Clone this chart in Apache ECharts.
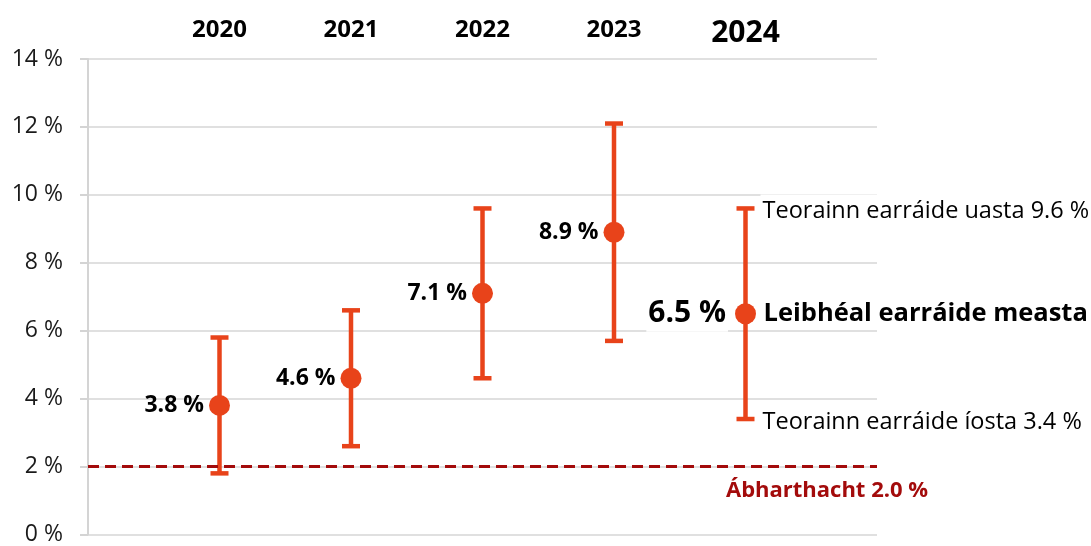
<!DOCTYPE html>
<html>
<head>
<meta charset="utf-8">
<script src="https://cdn.jsdelivr.net/npm/echarts@6/dist/echarts.min.js"></script>
<style>
  html, body { margin: 0; padding: 0; background: #ffffff; }
  #chart { width: 1091px; height: 546px; }
</style>
</head>
<body>
<div id="chart"></div>
<script>
// Estimated error level per year with its upper and lower error limits (%)
const years = ['2020', '2021', '2022', '2023', '2024'];
const estimate = [3.8, 4.6, 7.1, 8.9, 6.5];
const lowerLimit = [1.8, 2.6, 4.6, 5.7, 3.4];
const upperLimit = [5.8, 6.6, 9.6, 12.1, 9.6];
const materiality = 2.0;

// Text shown next to the latest year's marks
const estimateCaption = 'Leibhéal earráide measta';
const upperCaption = 'Teorainn earráide uasta';
const lowerCaption = 'Teorainn earráide íosta';
const materialityCaption = 'Ábharthacht';

const ORANGE = '#e8431a';
const DARK_RED = '#a30b0b';
const INK = '#000000';
const FONT = '"Open Sans", "Noto Sans", sans-serif';

const fmt = v => v.toFixed(1);
const last = years.length - 1;

// Years sit at positions 1..n on a value x-axis running from 0 to n+1
const pos = i => i + 1;

const barData = years.map((y, i) => [pos(i), lowerLimit[i], upperLimit[i]]);
const pointData = years.map((y, i) => {
  const item = { value: [pos(i), estimate[i]] };
  if (i === last) {
    item.label = {
      fontSize: 30,
      distance: 7,
      color: INK,
      backgroundColor: '#ffffff',
      padding: [2, 2, 4, 2]
    };
  }
  return item;
});

const chart = echarts.init(document.getElementById('chart'), null, { renderer: 'canvas' });

chart.setOption({
  animation: false,
  backgroundColor: '#ffffff',
  textStyle: { fontFamily: FONT },
  grid: { left: 88, right: 214, top: 59, bottom: 11, containLabel: false },
  xAxis: {
    type: 'value',
    position: 'top',
    min: 0,
    max: years.length + 1,
    interval: 1,
    axisLine: { show: false },
    axisTick: { show: false },
    splitLine: { show: false },
    axisLabel: {
      margin: 17,
      color: INK,
      fontFamily: FONT,
      fontWeight: 'bold',
      fontSize: 24,
      formatter: v => {
        const i = v - 1;
        if (i < 0 || i > last) return '';
        return i === last ? '{big|' + years[i] + '}' : years[i];
      },
      rich: {
        big: { fontSize: 30, fontWeight: 'bold', fontFamily: FONT, color: INK, padding: [0, 0, -6, 0] }
      }
    }
  },
  yAxis: {
    type: 'value',
    min: 0,
    max: 14,
    interval: 2,
    axisLine: { show: true, lineStyle: { color: '#d4d4d4', width: 2 } },
    axisTick: { show: true, length: 8, lineStyle: { color: '#d4d4d4', width: 2 } },
    splitLine: { show: true, lineStyle: { color: '#e0e0e0', width: 2 } },
    axisLabel: {
      margin: 25,
      color: '#1a1a1a',
      fontFamily: FONT,
      fontSize: 23,
      formatter: v => v + ' %'
    }
  },
  series: [
    {
      // vertical error bars with caps
      name: 'limits',
      type: 'custom',
      z: 2,
      data: barData,
      encode: { x: 0, y: [1, 2] },
      renderItem: (params, api) => {
        const x = api.value(0);
        const lo = api.coord([x, api.value(1)]);
        const hi = api.coord([x, api.value(2)]);
        const cap = 9;
        const style = { stroke: ORANGE, lineWidth: 4.5 };
        return {
          type: 'group',
          children: [
            { type: 'line', shape: { x1: lo[0], y1: lo[1], x2: hi[0], y2: hi[1] }, style },
            { type: 'line', shape: { x1: hi[0] - cap, y1: hi[1], x2: hi[0] + cap, y2: hi[1] }, style },
            { type: 'line', shape: { x1: lo[0] - cap, y1: lo[1], x2: lo[0] + cap, y2: lo[1] }, style }
          ]
        };
      },
      markLine: {
        silent: true,
        symbol: 'none',
        z: 5,
        label: { show: false },
        lineStyle: { color: DARK_RED, width: 3, type: [11, 6] },
        data: [{ yAxis: materiality }]
      },
      markPoint: {
        silent: true,
        symbol: 'circle',
        symbolSize: 0,
        label: {
          show: true,
          position: 'bottom',
          distance: 13,
          color: DARK_RED,
          fontFamily: FONT,
          fontWeight: 'bold',
          fontSize: 22,
          formatter: () => materialityCaption + ' ' + fmt(materiality) + ' %'
        },
        data: [{ coord: [5.62, materiality] }]
      }
    },
    {
      // estimated error level
      name: 'estimate',
      type: 'scatter',
      z: 4,
      symbol: 'circle',
      symbolSize: 21,
      itemStyle: { color: ORANGE, opacity: 1 },
      data: pointData,
      label: {
        show: true,
        position: 'left',
        distance: 5,
        color: INK,
        fontFamily: FONT,
        fontWeight: 'bold',
        fontSize: 23,
        formatter: p => fmt(p.value[1]) + ' %'
      }
    },
    {
      // captions for the latest year
      name: 'captions',
      type: 'scatter',
      z: 3,
      symbolSize: 0,
      silent: true,
      itemStyle: { opacity: 1 },
      data: [
        {
          value: [pos(last), upperLimit[last]],
          label: {
            formatter: () => upperCaption + ' ' + fmt(upperLimit[last]) + ' %',
            color: INK, fontWeight: 'normal', fontSize: 23.5, offset: [0, 3],
            backgroundColor: '#ffffff', padding: [6, 4, 4, 2]
          }
        },
        {
          value: [pos(last), estimate[last]],
          label: {
            formatter: () => estimateCaption,
            color: INK, fontWeight: 'bold', fontSize: 25.5, distance: 16,
            backgroundColor: '#ffffff', padding: [2, 2, 2, 2]
          }
        },
        {
          value: [pos(last), lowerLimit[last]],
          label: {
            formatter: () => lowerCaption + ' ' + fmt(lowerLimit[last]) + ' %',
            color: INK, fontWeight: 'normal', fontSize: 23.5, offset: [0, 3],
            backgroundColor: '#ffffff', padding: [2, 4, 2, 2]
          }
        }
      ],
      label: {
        show: true,
        position: 'right',
        distance: 15,
        color: INK,
        fontFamily: FONT
      }
    }
  ]
});
</script>
</body>
</html>
